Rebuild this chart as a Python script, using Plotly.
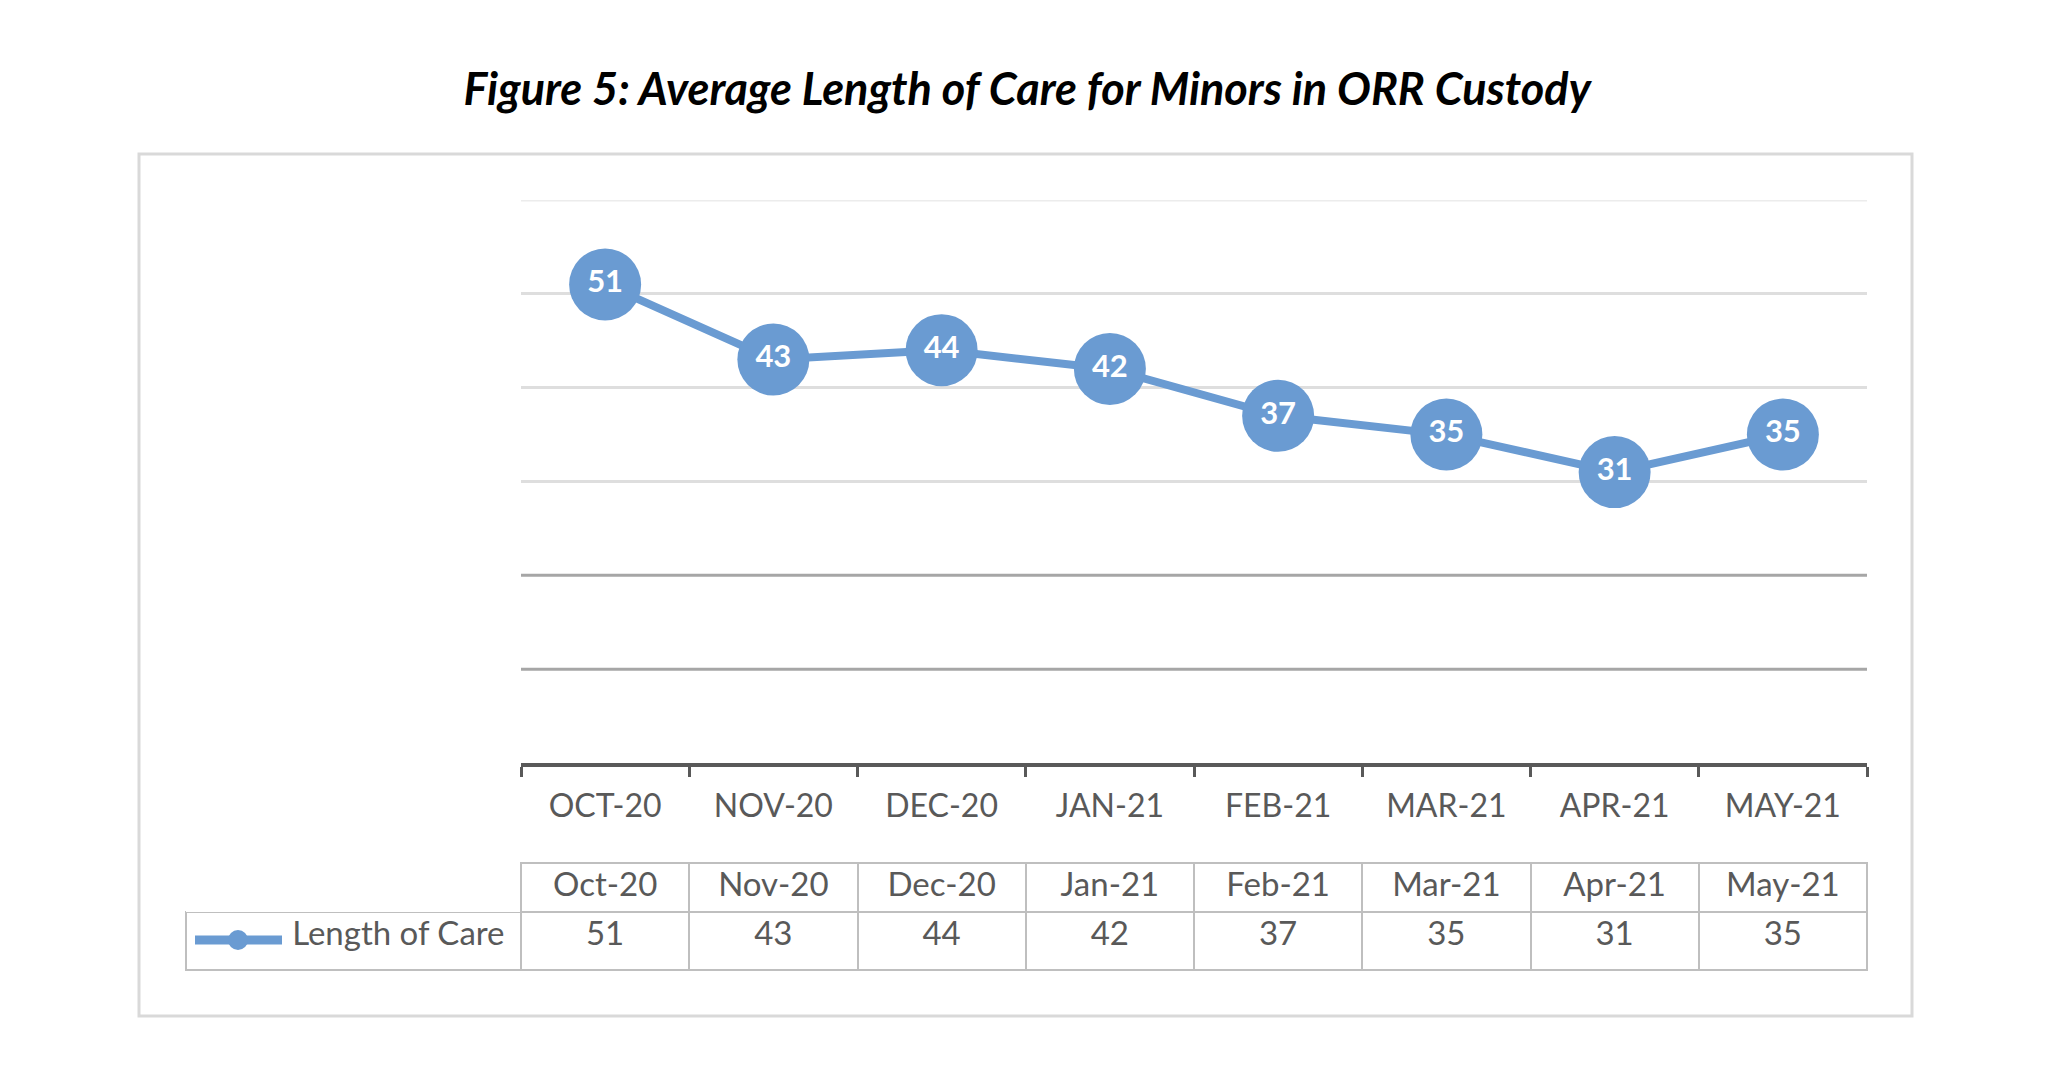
import plotly.graph_objects as go

# ---- data ----
categories = ["Oct-20", "Nov-20", "Dec-20", "Jan-21", "Feb-21", "Mar-21", "Apr-21", "May-21"]
length_of_care = [51, 43, 44, 42, 37, 35, 31, 35]
series_name = "Length of Care"
title_text = "Figure 5: Average Length of Care for Minors in ORR Custody"
grid_top = [60]
grid_light = [30, 40, 50]
grid_dark = [10, 20]
y_range = [0, 60]

W, H = 2048, 1092
BLUE = "#6a9bd2"
GREY_TXT = "#595959"
FONT = "Lato, Open Sans, Liberation Sans"

def px(x):
    return x / W

def py(y):
    return 1 - y / H

# layout geometry (pixels)
plot_l, plot_r, plot_t, plot_b = 513, 1859, 192, 755
tab_l, tab_t, tab_mid, tab_b = 178, 855, 904, 962

fig = go.Figure()

fig.add_trace(go.Scatter(
    x=categories, y=length_of_care,
    mode="lines+markers+text",
    line=dict(color=BLUE, width=8),
    marker=dict(color=BLUE, size=72, line=dict(width=0)),
    text=[str(v) for v in length_of_care],
    textposition="middle center",
    textfont=dict(family=FONT, size=31, color="white", weight="bold"),
    name=series_name, showlegend=False, cliponaxis=False,
))

# data table under the chart
fig.add_trace(go.Table(
    domain=dict(x=[px(tab_l), px(plot_r)], y=[py(tab_b + 2), py(tab_t)]),
    columnwidth=[plot_l - tab_l] + [(plot_r - plot_l) / len(categories)] * len(categories),
    header=dict(
        values=[""] + categories,
        align="center",
        height=tab_mid - tab_t,
        fill_color="white",
        line=dict(color=["rgba(0,0,0,0)"] + ["#bfbfbf"] * len(categories), width=2),
        font=dict(family=FONT, size=33, color=GREY_TXT),
    ),
    cells=dict(
        values=[[series_name + "\u00a0"]] + [[v] for v in length_of_care],
        align=["right"] + ["center"] * len(categories),
        height=tab_b - tab_mid,
        fill_color="white",
        line=dict(color="#bfbfbf", width=2),
        font=dict(family=FONT, size=33, color=GREY_TXT),
    ),
))

shapes = []
# outer border
shapes.append(dict(type="rect", xref="paper", yref="paper",
                   x0=px(131), x1=px(1904), y0=py(1008), y1=py(146),
                   line=dict(color="#d9d9d9", width=3), layer="below"))
# top (faint) and darker gridlines
for g in grid_top:
    shapes.append(dict(type="line", xref="x domain", yref="y", x0=0, x1=1, y0=g, y1=g,
                       line=dict(color="#ececec", width=3), layer="below"))
for g in grid_dark:
    shapes.append(dict(type="line", xref="x domain", yref="y", x0=0, x1=1, y0=g, y1=g,
                       line=dict(color="#a6a6a6", width=3), layer="below"))
# legend key in table
shapes.append(dict(type="line", xref="paper", yref="paper",
                   x0=px(187), x1=px(274), y0=py(932), y1=py(932),
                   line=dict(color=BLUE, width=9)))
shapes.append(dict(type="circle", xref="paper", yref="paper",
                   x0=px(220), x1=px(240), y0=py(942), y1=py(922),
                   fillcolor=BLUE, line=dict(width=0)))

fig.update_layout(
    width=W, height=H,
    margin=dict(l=0, r=0, t=0, b=0),
    paper_bgcolor="white", plot_bgcolor="white",
    title=dict(text="<b><i>" + title_text + "</i></b>", x=0.4976, xanchor="center",
               y=py(81), yanchor="middle",
               font=dict(family=FONT, size=45, color="black")),
    xaxis=dict(
        domain=[px(plot_l), px(plot_r)],
        type="category",
        range=[-0.5, len(categories) - 0.5],
        tickvals=categories, ticktext=[c.upper() for c in categories],
        tickson="boundaries", ticks="outside", ticklen=10, tickwidth=3, tickcolor=GREY_TXT,
        showline=True, linecolor=GREY_TXT, linewidth=4,
        showgrid=False, zeroline=False,
        tickfont=dict(family=FONT, size=32, color=GREY_TXT),
        ticklabelstandoff=12,
    ),
    yaxis=dict(
        domain=[py(plot_b), py(plot_t)],
        range=y_range, tickvals=grid_light,
        showticklabels=False, showgrid=True, gridcolor="#dedede", gridwidth=3,
        zeroline=False, showline=False, ticks="",
    ),
    shapes=shapes,
    showlegend=False,
)

fig.write_html("out.html")
